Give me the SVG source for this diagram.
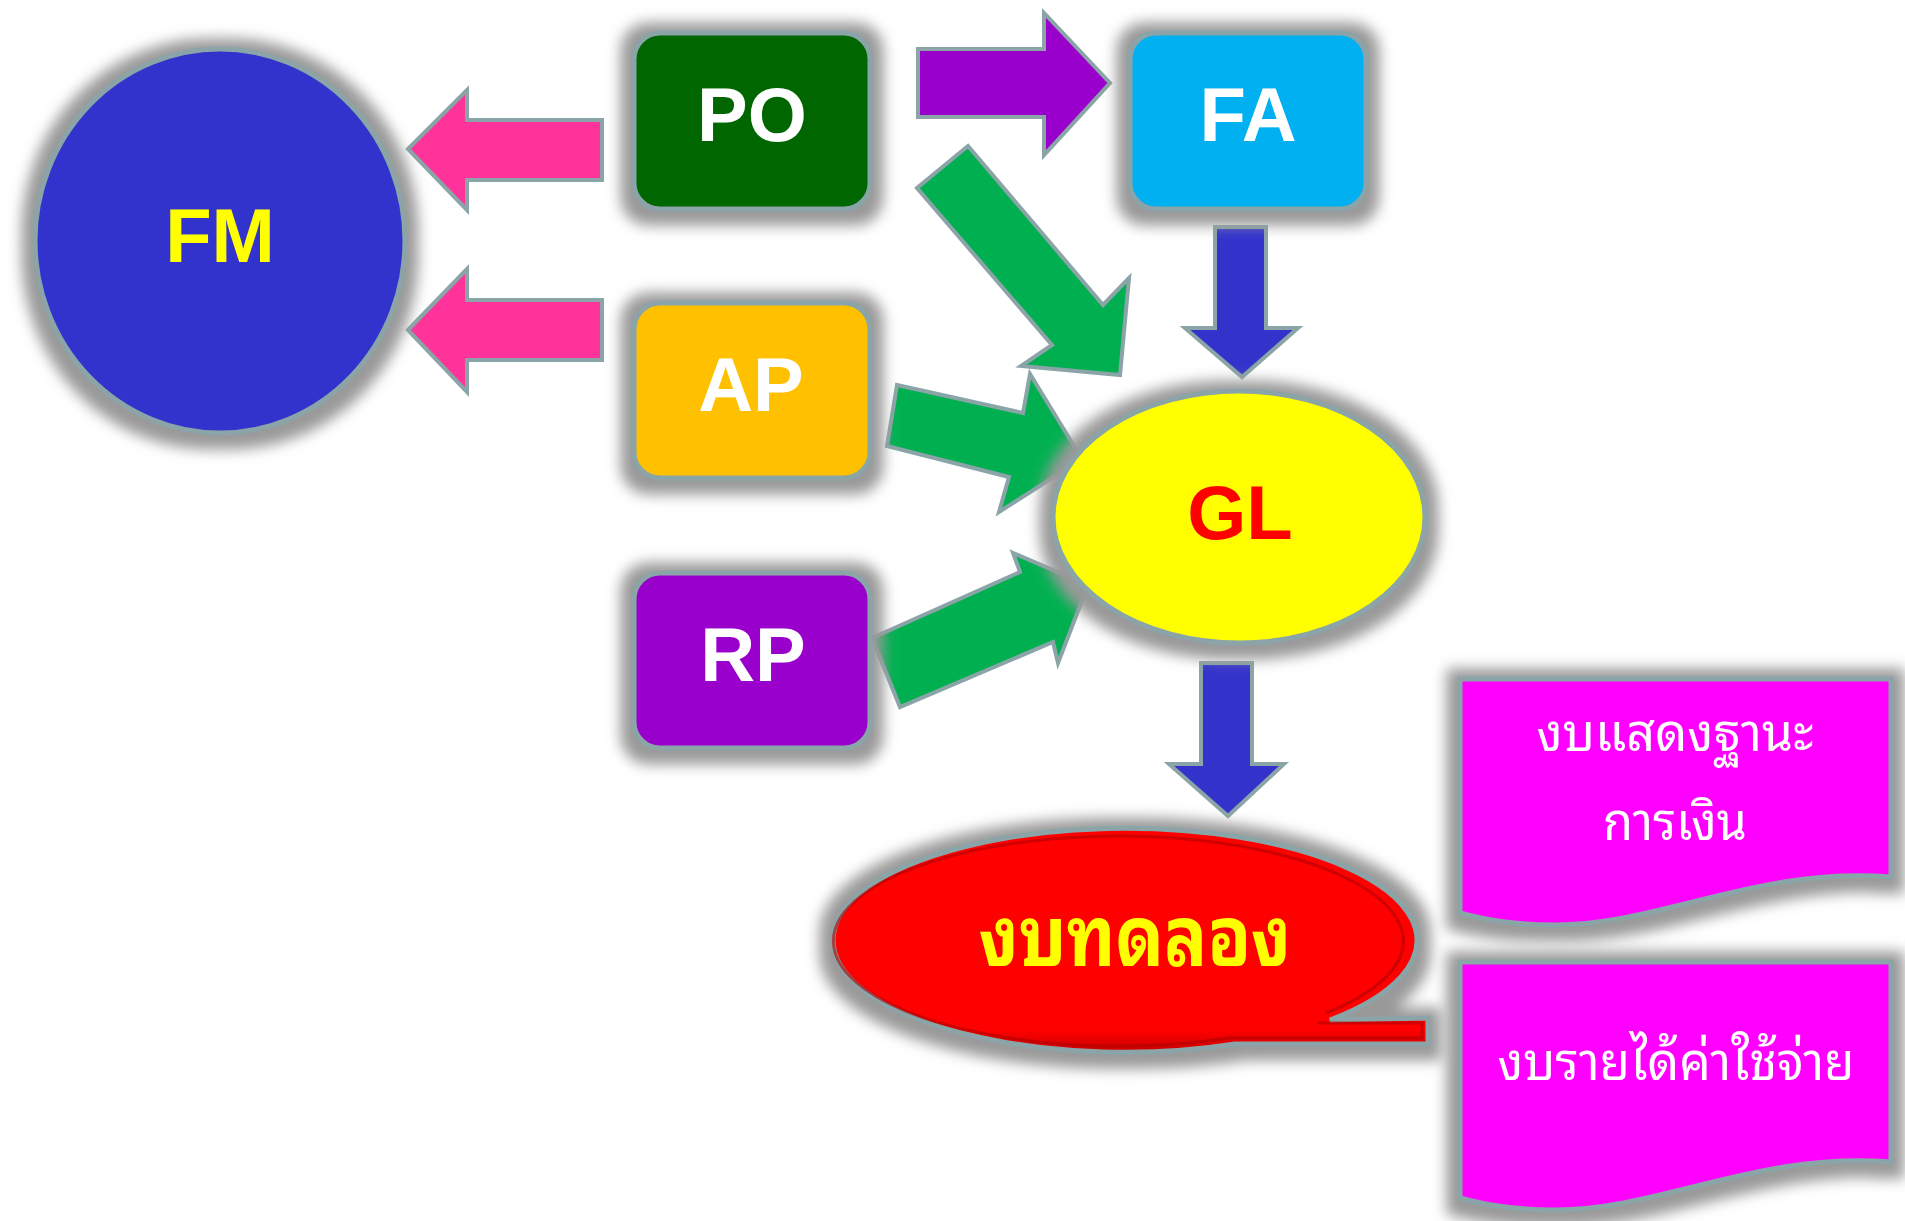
<svg xmlns="http://www.w3.org/2000/svg" width="1905" height="1221" viewBox="0 0 1905 1221">
<defs>
<filter id="glow" x="-30%" y="-30%" width="160%" height="160%">
<feMorphology in="SourceAlpha" operator="dilate" radius="11" result="d"/>
<feGaussianBlur in="d" stdDeviation="7" result="b"/>
<feOffset in="b" dy="3" result="o"/>
<feFlood flood-color="#999999" result="c"/>
<feComposite in="c" in2="o" operator="in" result="s"/>
<feMerge><feMergeNode in="s"/><feMergeNode in="SourceGraphic"/></feMerge>
</filter>
<linearGradient id="redg" x1="0" y1="0" x2="0" y2="1">
<stop offset="0" stop-color="#ff0000"/>
<stop offset="0.9" stop-color="#ff0000"/>
<stop offset="1" stop-color="#c80000"/>
</linearGradient>
</defs>
<style>
.sh{stroke:#8aa4a8;stroke-width:5;filter:url(#glow)}
.ar{stroke:#8aa4a8;stroke-width:4;stroke-linejoin:miter}
.lt{font-family:"Liberation Sans",Arial,sans-serif;font-weight:bold;font-size:76px;text-anchor:middle}
.th{font-family:"Noto Sans Thai Looped","Noto Serif Thai","Loma","Garuda","Norasi","Noto Sans Thai","DejaVu Sans",sans-serif;text-anchor:middle}
</style>
<rect width="1905" height="1221" fill="#ffffff"/>

<g id="connectors">
<polygon class="ar" fill="#ff3399" points="408,149 467,90 467,120 602,120 602,180 467,180 467,210"/>
<polygon class="ar" fill="#ff3399" points="408,330 467,269 467,300 602,300 602,360 467,360 467,392"/>
<polygon class="ar" fill="#9900cc" points="918,49 1044,49 1044,13 1110,83 1044,155 1044,117 918,117"/>
<polygon class="ar" fill="#00b050" points="968,146 1103,305 1129,278 1120,375 1021,366 1052,345 917,188"/>
<polygon class="ar" fill="#00b050" points="897,385 1023,413 1030,374 1082,459 999,512 1009,477 887,446"/>
<polygon class="ar" fill="#00b050" points="872,638 1020,572 1013,553 1088,585 1058,663 1053,642 900,707"/>
<polygon class="ar" fill="#3333cc" points="1215,227 1266,227 1266,328 1298,328 1242,377 1185,328 1215,328"/>
<polygon class="ar" fill="#3333cc" points="1201,663 1252,663 1252,764 1284,764 1228,816 1169,764 1201,764"/>
</g>

<g id="node-fm">
<ellipse class="sh" cx="220" cy="241" rx="185" ry="192" fill="#3333cc"/>
<text class="lt" x="220" y="262" fill="#ffff00">FM</text>
</g>
<g id="node-po">
<rect class="sh" x="634" y="33" width="236" height="176" rx="26" fill="#006600"/>
<text class="lt" x="752" y="141" fill="#ffffff">PO</text>
</g>
<g id="node-fa">
<rect class="sh" x="1130" y="33" width="236" height="176" rx="26" fill="#00b0f0"/>
<text class="lt" x="1248" y="141" fill="#ffffff">FA</text>
</g>
<g id="node-ap">
<rect class="sh" x="634" y="303" width="236" height="175" rx="26" fill="#ffc000"/>
<text class="lt" x="751" y="411" fill="#ffffff">AP</text>
</g>
<g id="node-rp">
<rect class="sh" x="634" y="573" width="236" height="175" rx="26" fill="#9900cc"/>
<text class="lt" x="753" y="681" fill="#ffffff">RP</text>
</g>
<g id="node-gl">
<ellipse class="sh" cx="1239" cy="517" rx="186" ry="126" fill="#ffff00"/>
<text class="lt" x="1240" y="539" fill="#ff0000">GL</text>
</g>
<g id="node-trial">
<path class="sh" fill="url(#redg)" d="M1330,1020 A292,112 0 1 0 1235,1044 L1428,1044 L1428,1018 Z"/>
<path fill="none" stroke="#b00000" stroke-width="3" opacity="0.6" d="M1326,1013 A285,105 0 1 0 1228,1038 L1422,1038 L1422,1023 L1318,1023"/>
<text class="th" x="1135" y="966" font-size="84" font-weight="bold" fill="#ffff00" textLength="312" lengthAdjust="spacingAndGlyphs">งบทดลอง</text>
</g>
<g id="node-balance">
<path class="sh" fill="#ff00ff" d="M1460,679 H1891 V877 C1760,866 1660,925 1555,925 C1515,925 1485,920 1460,913 Z"/>
<text class="th" x="1675" y="751" font-size="52" fill="#ffffff" textLength="277" lengthAdjust="spacingAndGlyphs">งบแสดงฐานะ</text>
<text class="th" x="1675" y="840" font-size="52" fill="#ffffff" textLength="144" lengthAdjust="spacingAndGlyphs">การเงิน</text>
</g>
<g id="node-income">
<path class="sh" fill="#ff00ff" d="M1460,962 H1891 V1162 C1760,1151 1660,1210 1555,1210 C1515,1210 1485,1205 1460,1198 Z"/>
<text class="th" x="1676" y="1080" font-size="52" fill="#ffffff" textLength="357" lengthAdjust="spacingAndGlyphs">งบรายได้ค่าใช้จ่าย</text>
</g>
</svg>
